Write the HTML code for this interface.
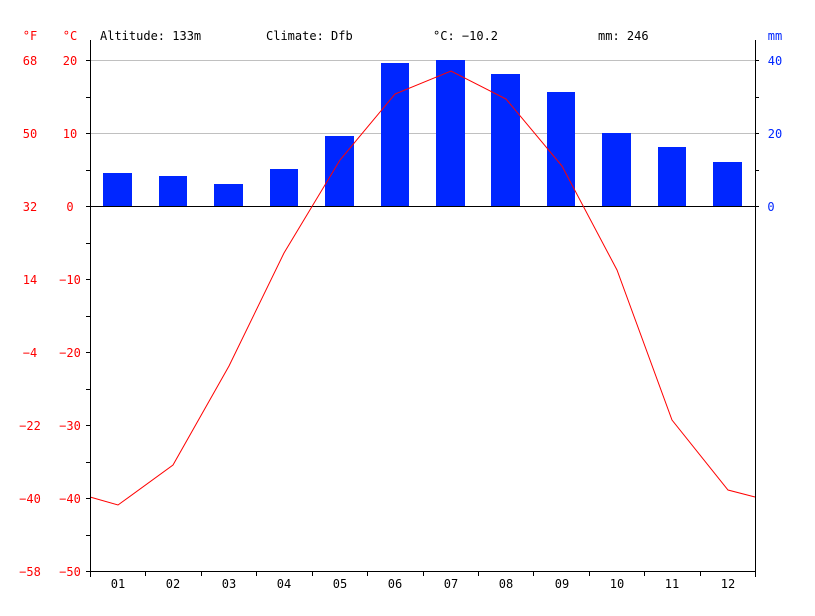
<!DOCTYPE html>
<html><head><style>body{margin:0;background:#fff}</style></head><body>
<svg width="815" height="611" xmlns="http://www.w3.org/2000/svg" font-family="'DejaVu Sans Mono','Liberation Mono',monospace" font-size="12">
<rect width="815" height="611" fill="#fff"/>
<line x1="90" y1="60.5" x2="755" y2="60.5" stroke="#c0c0c0"/>
<line x1="90" y1="133.5" x2="755" y2="133.5" stroke="#c0c0c0"/>
<g fill="#0026ff">
<rect x="103" y="173" width="29" height="33"/>
<rect x="159" y="176" width="28" height="30"/>
<rect x="214" y="184" width="29" height="22"/>
<rect x="270" y="169" width="28" height="37"/>
<rect x="325" y="136" width="29" height="70"/>
<rect x="381" y="63" width="28" height="143"/>
<rect x="436" y="60" width="29" height="146"/>
<rect x="491" y="74" width="29" height="132"/>
<rect x="547" y="92" width="28" height="114"/>
<rect x="602" y="133" width="29" height="73"/>
<rect x="658" y="147" width="28" height="59"/>
<rect x="713" y="162" width="29" height="44"/>
</g>
<line x1="90" y1="206.5" x2="755" y2="206.5" stroke="#000"/>
<polyline fill="none" stroke="#ff0000" stroke-width="1" points="90,497 118,505 173,465 229,366 284,253 340,160 395,94 451,71 506,99 562,166 617,270 672,420 728,490 755,497"/>
<g stroke="#000">
<line x1="90.5" y1="40" x2="90.5" y2="577"/>
<line x1="755.5" y1="40" x2="755.5" y2="577"/>
<line x1="90" y1="571.5" x2="755" y2="571.5"/>
<path d="M86 60.5h4M86 97.5h4M86 133.5h4M86 170.5h4M86 206.5h4M86 243.5h4M86 279.5h4M86 316.5h4M86 352.5h4M86 389.5h4M86 425.5h4M86 462.5h4M86 498.5h4M86 535.5h4M86 571.5h4"/>
<path d="M755 60.5h4M755 97.5h4M755 133.5h4M755 170.5h4M755 206.5h4"/>
<path d="M145.5 571v5M201.5 571v5M256.5 571v5M312.5 571v5M367.5 571v5M423.5 571v5M478.5 571v5M533.5 571v5M589.5 571v5M644.5 571v5M700.5 571v5"/>
</g>
<g fill="#ff0000" text-anchor="middle">
<text x="30" y="40">°F</text><text x="70" y="40">°C</text>
<text x="30" y="65">68</text><text x="70" y="65">20</text>
<text x="30" y="138">50</text><text x="70" y="138">10</text>
<text x="30" y="211">32</text><text x="70" y="211">0</text>
<text x="30" y="284">14</text><text x="70" y="284">−10</text>
<text x="30" y="357">−4</text><text x="70" y="357">−20</text>
<text x="30" y="430">−22</text><text x="70" y="430">−30</text>
<text x="30" y="503">−40</text><text x="70" y="503">−40</text>
<text x="30" y="576">−58</text><text x="70" y="576">−50</text>
</g>
<g fill="#0026ff" text-anchor="middle">
<text x="775" y="40">mm</text>
<text x="775" y="65">40</text>
<text x="775" y="138">20</text>
<text x="771" y="211">0</text>
</g>
<g fill="#000">
<text x="100" y="40">Altitude: 133m</text>
<text x="266" y="40">Climate: Dfb</text>
<text x="433" y="40">°C: −10.2</text>
<text x="598" y="40">mm: 246</text>
</g>
<g fill="#000" text-anchor="middle">
<text x="118" y="588">01</text><text x="173" y="588">02</text><text x="229" y="588">03</text><text x="284" y="588">04</text><text x="340" y="588">05</text><text x="395" y="588">06</text><text x="451" y="588">07</text><text x="506" y="588">08</text><text x="562" y="588">09</text><text x="617" y="588">10</text><text x="672" y="588">11</text><text x="728" y="588">12</text>
</g>
</svg>
</body></html>
